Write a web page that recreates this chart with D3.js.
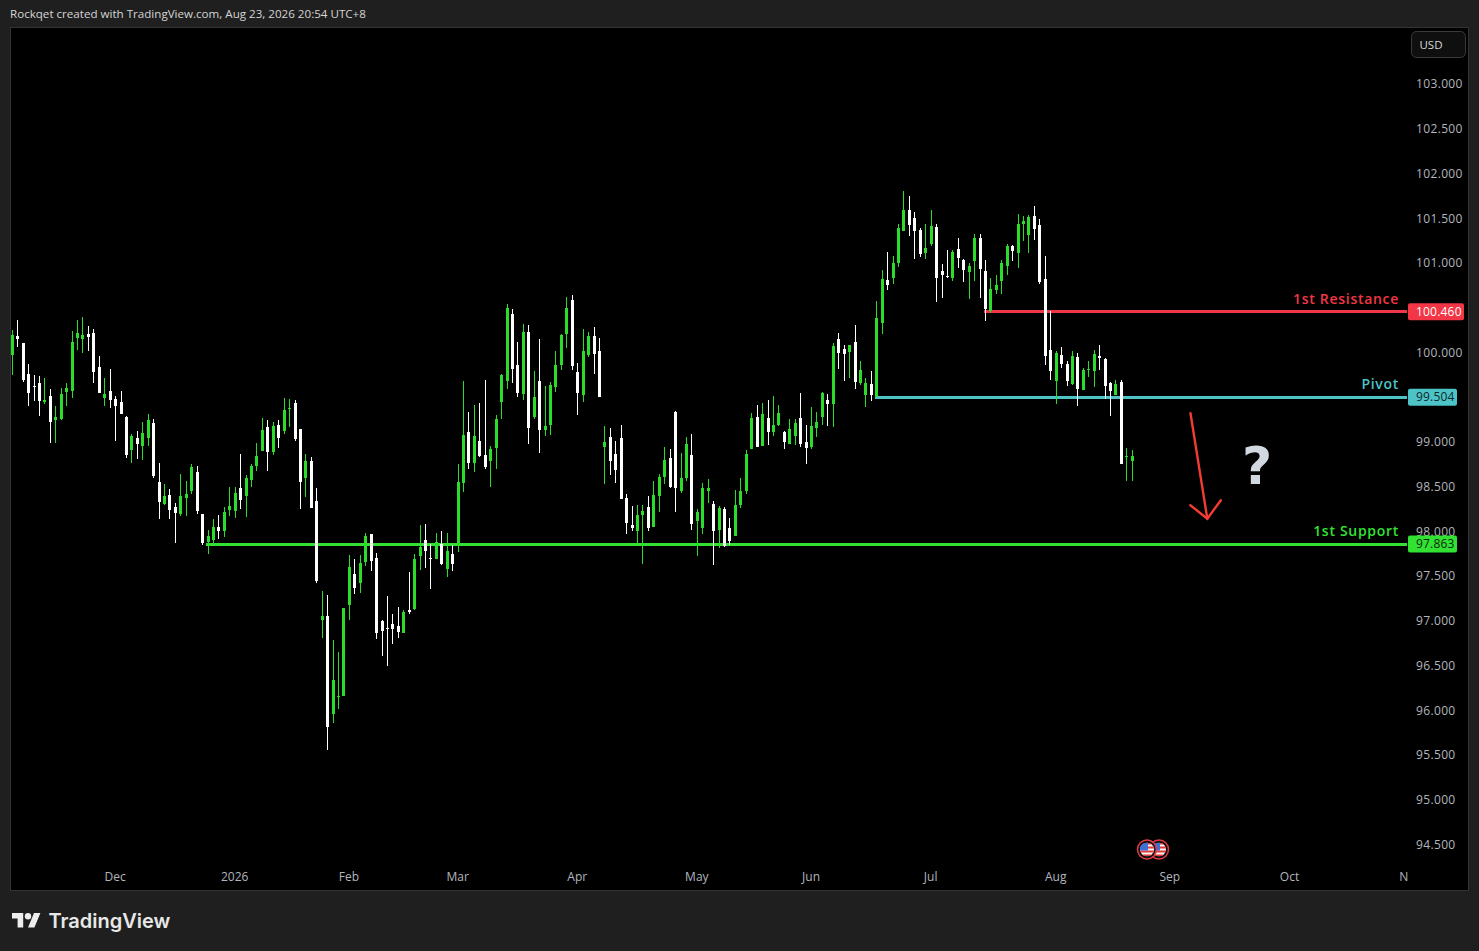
<!DOCTYPE html>
<html>
<head>
<meta charset="utf-8">
<script src="https://cdn.jsdelivr.net/npm/d3@7"></script>
<style>
html,body{margin:0;padding:0;background:#1f1f1f;overflow:hidden}
svg{display:block}
text{font-family:"Open Sans",sans-serif}
.domain{display:none}
</style>
</head>
<body>
<div id="chart"></div>
<script>
var open = [
99.976,100.189,100.110,99.764,99.630,99.663,99.451,99.518,99.250,99.261,
99.563,99.574,100.166,100.155,100.211,100.222,99.842,99.496,99.574,99.484,
99.451,99.283,98.914,99.049,98.959,99.049,99.216,98.557,98.311,98.412,
98.277,98.199,98.378,98.456,98.669,98.199,97.886,97.909,98.054,98.009,
98.244,98.233,98.490,98.400,98.579,98.736,98.903,99.172,98.892,99.194,
99.127,99.373,99.440,99.149,98.602,98.792,98.344,97.014,97.059,95.964,
96.154,96.165,97.182,97.528,97.428,97.663,97.976,97.707,97.003,96.925,
96.970,96.947,96.869,97.126,97.137,97.730,97.908,97.707,97.696,97.864,
97.584,97.752,97.864,98.546,99.116,98.769,99.015,98.859,98.792,98.937,
99.451,99.686,100.435,99.865,99.541,100.234,99.284,99.686,99.138,99.194,
99.619,99.865,100.211,100.591,99.787,99.529,99.977,100.189,100.021,98.948,
99.060,98.870,99.049,98.378,98.076,98.009,98.188,98.278,98.054,98.401,
98.613,98.825,99.340,98.457,98.602,98.859,98.121,98.043,98.457,98.311,
98.021,98.255,98.043,97.954,98.300,98.457,98.926,99.284,98.959,99.272,
99.116,99.194,99.116,98.982,99.071,99.272,99.004,98.948,99.161,99.284,
99.474,99.429,100.155,100.044,100.010,100.122,99.664,99.530,99.652,99.508,
100.335,100.815,100.838,101.005,101.363,101.598,101.508,101.374,101.117,101.218,
101.408,100.916,100.860,100.838,101.162,101.039,100.905,101.028,101.285,100.916,
100.469,100.704,100.804,100.972,101.195,101.117,101.441,101.318,101.531,101.430,
100.826,100.033,99.686,99.977,99.876,99.653,99.955,99.586,99.809,99.798,
99.966,99.932,99.664,99.530,99.675,98.837,98.792]

var high = [
100.256,100.367,100.110,99.876,99.753,99.742,99.719,99.596,99.406,99.607,
99.663,100.245,100.367,100.401,100.300,100.267,99.965,99.719,99.820,99.518,
99.574,99.294,99.093,99.127,99.227,99.317,99.261,98.769,98.534,98.479,
98.322,98.646,98.568,98.758,98.736,98.199,98.020,98.143,98.188,98.277,
98.501,98.501,98.870,98.635,98.758,98.993,99.272,99.250,99.227,99.250,
99.496,99.484,99.473,99.149,98.870,98.836,98.490,97.338,97.294,96.791,
96.657,97.148,97.741,97.696,97.741,97.987,97.976,97.763,97.014,97.283,
97.081,97.160,97.126,97.551,97.752,98.076,98.087,97.864,97.987,98.009,
97.987,97.853,98.758,99.686,99.339,99.418,99.440,99.697,98.959,99.306,
99.764,100.547,100.491,100.122,100.323,100.312,99.798,100.155,99.630,99.675,
100.021,100.211,100.625,100.647,99.887,100.267,100.234,100.289,100.167,99.183,
99.161,99.015,99.194,98.423,98.289,98.300,98.300,98.401,98.568,98.647,
98.948,98.926,99.351,98.881,99.060,99.094,98.255,98.546,98.591,98.345,
98.289,98.278,98.155,98.468,98.602,98.915,99.328,99.418,99.440,99.474,
99.518,99.418,99.127,99.261,99.261,99.552,99.194,99.395,99.340,99.563,
99.541,100.111,100.222,100.088,100.088,100.312,99.910,99.720,99.798,100.581,
100.927,101.128,101.084,101.441,101.810,101.754,101.575,101.397,101.441,101.598,
101.441,100.994,101.151,101.151,101.285,101.050,101.005,101.329,101.329,101.039,
100.838,100.871,101.039,101.218,101.207,101.553,101.531,101.542,101.642,101.497,
101.084,100.469,100.022,100.066,99.910,100.022,99.999,99.832,99.910,100.033,
100.089,99.944,99.675,99.698,99.698,98.938,98.915]

var low = [
99.753,100.066,99.675,99.406,99.462,99.294,99.429,98.993,98.993,99.250,
99.406,99.496,100.032,99.999,100.021,99.663,99.552,99.406,99.384,99.015,
99.317,98.825,98.769,98.814,98.803,98.959,98.602,98.143,98.300,98.143,
97.875,98.177,98.177,98.423,98.199,97.853,97.752,97.864,97.920,97.942,
98.177,98.154,98.255,98.166,98.501,98.680,98.903,98.680,98.859,98.937,
99.093,99.172,99.015,98.255,98.389,98.266,97.428,96.813,95.561,95.863,
96.020,96.165,97.014,97.305,97.316,97.618,97.562,96.802,96.612,96.500,
96.746,96.813,96.869,97.081,97.126,97.573,97.596,97.361,97.696,97.629,
97.495,97.562,97.775,98.445,98.702,98.669,98.836,98.702,98.501,98.702,
99.261,99.596,99.664,99.507,99.474,98.982,99.261,98.881,99.071,99.082,
99.563,99.809,100.055,99.809,99.306,99.451,99.954,99.764,99.507,98.535,
98.635,98.546,98.367,97.976,98.009,97.875,97.641,98.009,98.054,98.222,
98.535,98.490,98.222,98.434,98.568,98.021,97.730,97.976,98.322,97.629,
97.819,97.831,97.853,97.954,98.267,98.423,98.926,98.948,98.959,98.971,
99.071,99.183,98.926,98.982,98.971,98.948,98.758,98.926,99.060,99.194,
99.183,99.172,99.820,99.686,99.720,99.597,99.641,99.395,99.462,99.508,
100.212,100.704,100.771,100.961,101.363,101.307,101.050,101.072,101.050,101.195,
100.569,100.614,100.838,100.804,100.949,100.793,100.603,100.804,100.614,100.357,
100.446,100.659,100.659,100.871,101.028,100.949,101.251,101.117,101.262,100.771,
99.865,99.698,99.429,99.832,99.631,99.642,99.407,99.586,99.731,99.619,
99.809,99.485,99.295,99.530,98.759,98.569,98.569]

var close = [
100.200,100.155,99.697,99.552,99.619,99.462,99.473,99.227,99.283,99.540,
99.607,100.122,100.222,100.200,100.177,99.786,99.552,99.540,99.473,99.406,
99.317,98.859,99.071,98.982,99.104,99.250,98.624,98.333,98.400,98.244,
98.210,98.400,98.423,98.724,98.233,97.875,97.953,98.054,98.009,98.221,
98.289,98.434,98.356,98.602,98.736,98.847,99.138,98.892,99.183,99.049,
99.362,99.384,99.037,98.557,98.792,98.266,97.450,97.059,95.818,96.344,
96.165,97.148,97.607,97.372,97.651,97.953,97.674,96.869,96.891,96.914,
96.914,96.880,97.104,97.104,97.696,97.830,97.786,97.696,97.886,97.640,
97.786,97.640,98.557,99.082,98.769,99.071,98.848,98.725,98.926,99.261,
99.753,100.502,99.820,99.552,100.234,99.161,99.507,99.138,99.183,99.641,
99.865,100.200,100.502,99.854,99.552,100.021,100.189,99.988,99.507,99.004,
98.792,98.691,98.367,98.099,98.043,98.188,98.233,98.043,98.412,98.613,
98.803,98.501,98.490,98.602,98.982,98.088,98.222,98.490,98.490,98.009,
98.267,97.842,97.898,98.300,98.457,98.870,99.272,98.948,99.317,99.116,
99.194,99.328,99.004,99.149,99.217,98.982,98.937,99.183,99.228,99.552,
99.429,100.077,99.999,99.988,100.088,99.675,99.809,99.664,99.530,100.391,
100.826,100.759,101.005,101.397,101.598,101.430,101.363,101.106,101.173,101.419,
100.838,100.871,100.849,101.128,101.061,100.927,100.972,101.285,100.938,100.491,
100.715,100.759,101.005,101.195,101.139,101.441,101.475,101.519,101.385,100.793,
99.966,99.798,99.999,99.876,99.686,99.966,99.597,99.809,99.821,99.988,
99.944,99.631,99.575,99.653,98.759,98.848,98.848]

var priceTicks = [103,102.5,102,101.5,101,100.5,100,99.5,99,98.5,98,97.5,97,96.5,96,95.5,95,94.5]
var hiddenTicks = [100.5,99.5]
var monthLabels = ["Dec","2026","Feb","Mar","Apr","May","Jun","Jul","Aug","Sep","Oct","N"]
var monthBars = [19,41,62,82,104,126,147,169,192,213,235,256]

var levelNames = ["1st Resistance","Pivot","1st Support"]
var levelPrices = [100.460,99.504,97.863]
var levelStart = [179,159,36]
var levelColors = ["#f23645","#4cc3c7","#33e133"]
var levelTextColors = ["#ffffff","#10282a","#0c2a0c"]

var arrowFrom = [216.7,99.325]
var arrowTo = [219.8,98.147]

var width = 1479, height = 951
var upColor = "#2bdc2b", downColor = "#ffffff"

var svg = d3.select("#chart").append("svg")
    .attr("width", width)
    .attr("height", height)

var xScale = d3.scaleLinear().domain([0,206]).range([12.3,1132.3])
var yScale = d3.scaleLinear().domain([103,94.5]).range([84.5,845])

svg.append("rect")
    .attr("x",10.5).attr("y",27.5)
    .attr("width",1458).attr("height",863)
    .attr("fill","#000").attr("stroke","#333")

svg.append("text")
    .attr("x",10).attr("y",18)
    .attr("fill","#d4d4d4")
    .style("font-size","11.6px")
    .text("Rockqet created with TradingView.com, Aug 23, 2026 20:54 UTC+8")

// price and time axes
var yAxis = d3.axisRight(yScale)
    .tickValues(priceTicks.filter(function(d){return hiddenTicks.indexOf(d) < 0}))
    .tickSize(0)
    .tickPadding(0)
    .tickFormat(d3.format(".3f"))

svg.append("g")
    .attr("transform","translate(1416,-0.5)")
    .call(yAxis)
    .selectAll("text")
    .attr("fill","#b2b5be")
    .style("font-size","12px")
    .style("letter-spacing","0.35px")

var xAxis = d3.axisBottom(xScale)
    .tickValues(monthBars)
    .tickSize(0)
    .tickPadding(0)
    .tickFormat(function(d,i){return monthLabels[i]})

svg.append("g")
    .attr("transform","translate(-1,872)")
    .call(xAxis)
    .selectAll("text")
    .attr("fill","#b2b5be")
    .style("font-size","12px")

// level lines go under the candles
var levels = svg.append("g").attr("shape-rendering","crispEdges")
levelPrices.forEach(function(p,i){
    levels.append("rect")
        .attr("x",xScale(levelStart[i])-2).attr("y",Math.floor(yScale(p))-1)
        .attr("width",1407-xScale(levelStart[i])+2).attr("height",3)
        .attr("fill",levelColors[i])
})

var bars = d3.range(open.length)
var candles = svg.append("g").attr("shape-rendering","crispEdges")
candles.selectAll("rect.wick").data(bars).join("rect")
    .attr("class","wick")
    .attr("x",function(i){return Math.floor(xScale(i))})
    .attr("y",function(i){return Math.round(yScale(high[i]))})
    .attr("width",1)
    .attr("height",function(i){return Math.max(1,Math.round(yScale(low[i]))-Math.round(yScale(high[i])))})
    .attr("fill",function(i){return close[i]>=open[i] ? upColor : downColor})
candles.selectAll("rect.body").data(bars).join("rect")
    .attr("class","body")
    .attr("x",function(i){return Math.floor(xScale(i))-1})
    .attr("y",function(i){return Math.round(yScale(Math.max(open[i],close[i])))})
    .attr("width",3)
    .attr("height",function(i){return Math.max(1,Math.round(yScale(Math.min(open[i],close[i])))-Math.round(yScale(Math.max(open[i],close[i]))))})
    .attr("fill",function(i){return close[i]>=open[i] ? upColor : downColor})

// level names and price tags
levelPrices.forEach(function(p,i){
    var y = yScale(p)
    svg.append("text")
        .attr("x",1399).attr("y",y-8)
        .attr("text-anchor","end")
        .attr("fill",levelColors[i])
        .style("font-size","14px")
        .style("font-weight","600")
        .style("letter-spacing","0.7px")
        .text(levelNames[i])
    var label = d3.format(".3f")(p)
    svg.append("rect")
        .attr("x",1408).attr("y",y-8.5)
        .attr("width",label.length > 6 ? 56 : 49).attr("height",17)
        .attr("rx",2)
        .attr("fill",levelColors[i])
    svg.append("text")
        .attr("x",1416).attr("y",y+4)
        .attr("fill",levelTextColors[i])
        .style("font-size","12px")
        .style("letter-spacing","0.2px")
        .text(label)
})

// drawn arrow and question mark
var ax0 = xScale(arrowFrom[0]), ay0 = yScale(arrowFrom[1])
var ax1 = xScale(arrowTo[0]), ay1 = yScale(arrowTo[1])
svg.append("path")
    .attr("d",d3.line()([[ax0,ay0],[ax1,ay1]]))
    .attr("stroke","#f23c32").attr("stroke-width",2.4).attr("fill","none").attr("stroke-linecap","round")
svg.append("path")
    .attr("d",d3.line()([[ax1-17,ay1-13.5],[ax1,ay1],[ax1+13.5,ay1-18.5]]))
    .attr("stroke","#f23c32").attr("stroke-width",2.4).attr("fill","none").attr("stroke-linecap","round")

svg.append("text")
    .attr("x",1257).attr("y",484)
    .attr("text-anchor","middle")
    .attr("fill","#d1d8e0")
    .style("font-family","'DejaVu Sans',sans-serif")
    .style("font-weight","700")
    .style("font-size","52px")
    .text("?")

// US flag event badges
function flag(cx,cy,id){
    var g = svg.append("g")
    g.append("clipPath").attr("id",id).append("circle").attr("cx",cx).attr("cy",cy).attr("r",7)
    var f = g.append("g").attr("clip-path","url(#"+id+")")
    f.append("rect").attr("x",cx-7).attr("y",cy-7).attr("width",14).attr("height",14).attr("fill","#f5f5f5")
    d3.range(0,7,2).forEach(function(k){
        f.append("rect").attr("x",cx-7).attr("y",cy-7+k*2).attr("width",14).attr("height",2).attr("fill","#e53935")
    })
    f.append("rect").attr("x",cx-7).attr("y",cy-7).attr("width",8).attr("height",8).attr("fill","#3d6fd8")
    g.append("circle").attr("cx",cx).attr("cy",cy).attr("r",8)
        .attr("fill","none").attr("stroke","#111").attr("stroke-width",1.5)
    g.append("circle").attr("cx",cx).attr("cy",cy).attr("r",9.5)
        .attr("fill","none").attr("stroke","#e03a45").attr("stroke-width",1.5)
}
flag(1159,849.5,"flagB")
flag(1147,849.5,"flagA")

svg.append("rect")
    .attr("x",1411.5).attr("y",31.5)
    .attr("width",54).attr("height",26).attr("rx",5)
    .attr("fill","#0f0f0f").attr("stroke","#3a3a3a")
svg.append("text")
    .attr("x",1431).attr("y",49)
    .attr("text-anchor","middle")
    .attr("fill","#d8d8d8")
    .style("font-size","11.5px")
    .text("USD")

// logo
svg.append("g")
    .attr("transform","translate(12,909.8) scale(0.8)")
    .attr("fill","#eeeeee")
    .selectAll("path")
    .data(["M14 22H7V11H0V4h14v18z","M28 22h-8l7.5-18h8L28 22z"])
    .join("path")
    .attr("d",function(d){return d})
svg.append("circle")
    .attr("cx",28).attr("cy",916.2).attr("r",3.2).attr("fill","#eeeeee")
svg.append("text")
    .attr("x",48.5).attr("y",928)
    .attr("fill","#e8e8e8")
    .style("font-family","Inter,sans-serif")
    .style("font-weight","600")
    .style("font-size","20px")
    .text("TradingView")
</script>
</body>
</html>
